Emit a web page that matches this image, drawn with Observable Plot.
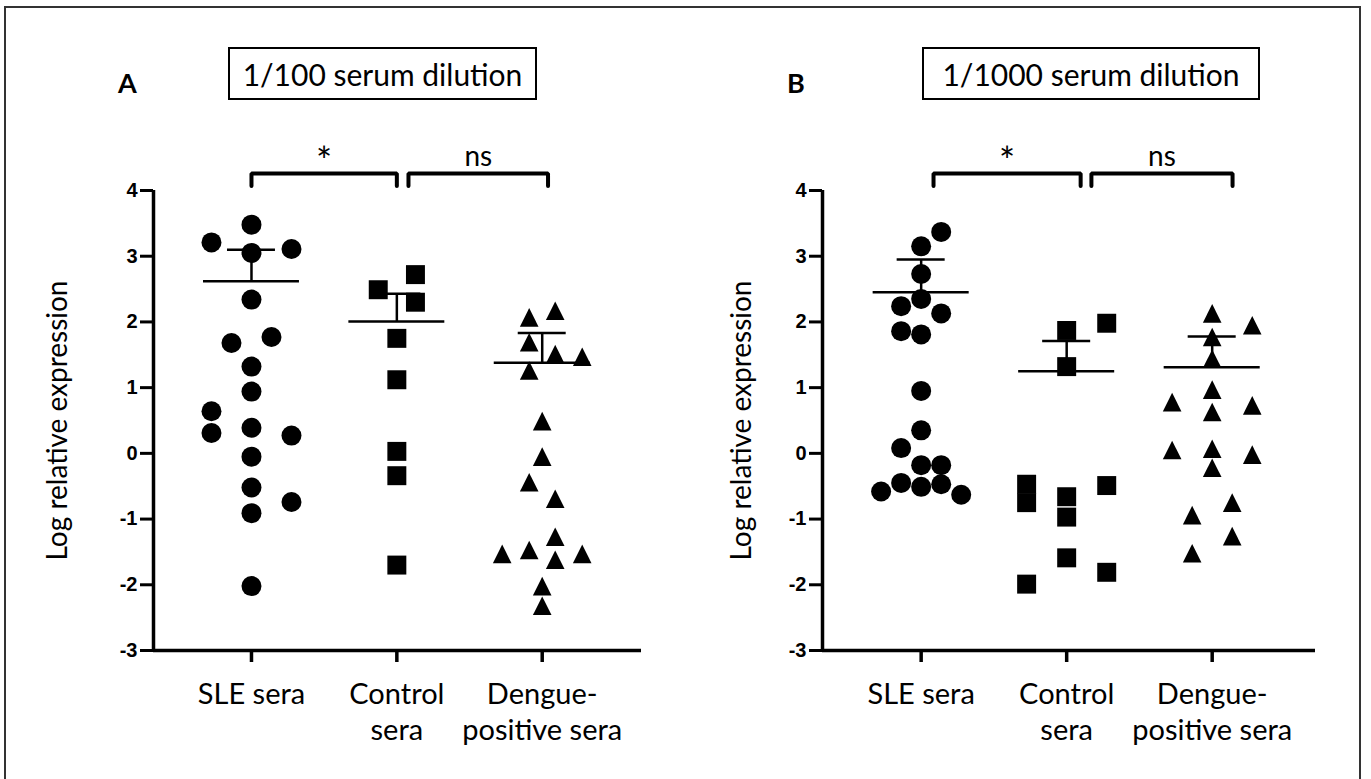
<!DOCTYPE html>
<html>
<head>
<meta charset="utf-8">
<script src="https://cdn.jsdelivr.net/npm/d3@7"></script>
<script src="https://cdn.jsdelivr.net/npm/@observablehq/plot@0.6"></script>
<style>
  body { margin: 0; background: #fff; }
  #root { position: relative; width: 1371px; height: 779px; overflow: hidden; background: #fff; font-family: Lato, sans-serif; color: #000; }
  #frame { position: absolute; left: 4px; top: 6px; width: 1357px; height: 820px; border: 2px solid #333; box-sizing: border-box; }
  .panel { position: absolute; top: 0; }
  .letter { position: absolute; font-weight: bold; font-size: 27px; line-height: 27px; }
  .tbox { position: absolute; border: 2px solid #000; box-sizing: border-box; font-size: 30px; display: flex; align-items: center; justify-content: center; white-space: nowrap; }
</style>
</head>
<body>
<div id="root">
  <div id="frame"></div>
  <div class="letter" style="left:118px;top:69px;">A</div>
  <div class="tbox" style="left:228px;top:47px;width:309px;height:53px;">1/100 serum dilution</div>
  <div class="letter" style="left:787px;top:69px;">B</div>
  <div class="tbox" style="left:922px;top:47px;width:338px;height:53px;">1/1000 serum dilution</div>
</div>
<script>
// ---------- data ----------
const categories = ["SLE sera", "Control\nsera", "Dengue-\npositive sera"];
const yTicks = [-3, -2, -1, 0, 1, 2, 3, 4];
const yLabel = "Log relative expression";
const sigLabels = ["*", "ns"];

// Panel A (1/100 dilution): values and swarm column (in dot slots)
const aSleValues = [3.48, 3.21, 3.11, 3.05, 2.34, 1.68, 1.77, 1.32, 0.94, 0.64, 0.31, 0.39, 0.27, -0.05, -0.52, -0.91, -0.74, -2.02];
const aSleCols   = [0, -2, 2, 0, 0, -1, 1, 0, 0, -2, -2, 0, 2, 0, 0, 0, 2, 0];
const aCtrlValues = [2.72, 2.49, 2.30, 1.75, 1.12, 0.03, -0.34, -1.70];
const aCtrlCols   = [0.93, -0.93, 0.93, 0, 0, 0, 0, 0];
const aDengValues = [2.17, 2.07, 1.69, 1.51, 1.47, 1.26, 0.49, -0.05, -0.44, -0.69, -1.27, -1.53, -1.47, -1.62, -1.53, -2.02, -2.32];
const aDengCols   = [0.65, -0.65, -0.65, 0.65, 2, -0.65, 0, 0, -0.65, 0.65, 0.65, -2, -0.65, 0.65, 2, 0, 0];
const aMeans = [2.62, 2.005, 1.38];
const aUpper = [3.10, 2.43, 1.83];
const aBrackets = [[0, 1], [1.08, 2.04]];

// Panel B (1/1000 dilution)
const bSleValues = [3.37, 3.15, 2.73, 2.35, 2.24, 2.13, 1.86, 1.81, 0.95, 0.35, 0.08, -0.18, -0.18, -0.45, -0.51, -0.47, -0.58, -0.63];
const bSleCols   = [1, 0, 0, 0, -1, 1, -1, 0, 0, 0, -1, 0, 1, -1, 0, 1, -2, 2];
const bCtrlValues = [1.87, 1.98, 1.32, -0.47, -0.75, -0.49, -0.66, -0.97, -1.59, -1.81, -1.99];
const bCtrlCols   = [0, 2, 0, -2, -2, 2, 0, 0, 0, 2, -2];
const bDengValues = [2.13, 1.95, 1.77, 1.44, 0.97, 0.78, 0.73, 0.63, 0.05, 0.07, -0.02, -0.22, -0.75, -0.94, -1.26, -1.52];
const bDengCols   = [0, 2, 0, 0, 0, -2, 2, 0, -2, 0, 2, 0, 1, -1, 1, -1];
const bMeans = [2.45, 1.25, 1.31];
const bUpper = [2.95, 1.71, 1.78];
const bBrackets = [[0.085, 1.096], [1.17, 2.14]];

// ---------- drawing ----------
const SLOT = 0.1376;       // one swarm column, in category units
const MEAN_HALF = 0.33;
const CAP_HALF = 0.165;
const BR_TOP = 4.26, BR_END = 4.07;

const triangle = {
  draw(context, size) {
    const h = Math.sqrt(size / Math.PI) * 0.93;
    context.moveTo(0, -h);
    context.lineTo(h, h);
    context.lineTo(-h, h);
    context.closePath();
  }
};

function rows(values, cols, ci) {
  return values.map((v, i) => ({x: ci + cols[i] * SLOT, y: v}));
}

function panel({sle, ctrl, deng, means, upper, brackets, left, width, marginLeft, marginRight, domainX, labelDx}) {
  const idx = [0, 1, 2];
  const bracketPts = brackets.flatMap(([x1, x2], k) => [
    {k, x: x1, y: BR_END}, {k, x: x1, y: BR_TOP}, {k, x: x2, y: BR_TOP}, {k, x: x2, y: BR_END}
  ]);
  const svg = Plot.plot({
    width, height: 779,
    marginLeft, marginRight, marginTop: 190, marginBottom: 129,
    style: {fontFamily: "Lato, sans-serif", background: "transparent", overflow: "visible"},
    x: {domain: domainX},
    y: {domain: [-3, 4]},
    marks: [
      Plot.axisY({ticks: yTicks, tickSize: 13, tickPadding: 3, tickFormat: d => String(d),
        fontSize: 20, fontWeight: "bold", fontFamily: "Liberation Sans Narrow, Arial Narrow, sans-serif",
        strokeWidth: 3, label: null, fill: "black", stroke: "black"}),
      Plot.axisX({ticks: idx, tickSize: 12, tickPadding: 15, tickFormat: i => categories[i],
        fontSize: 29, lineHeight: 1.27, strokeWidth: 3.5, label: null, fill: "black", stroke: "black"}),
      Plot.ruleX([domainX[0]], {strokeWidth: 3.5, stroke: "black"}),
      Plot.ruleY([-3], {strokeWidth: 3.5, stroke: "black"}),
      Plot.text([yLabel], {text: d => d, frameAnchor: "left", textAnchor: "middle", lineAnchor: "middle", rotate: -90, dx: labelDx, fontSize: 28, fill: "black"}),
      Plot.dot(rows(sle.v, sle.c, 0), {x: "x", y: "y", r: 10, symbol: "circle", fill: "black", stroke: null}),
      Plot.dot(rows(ctrl.v, ctrl.c, 1), {x: "x", y: "y", r: 10.7, symbol: "square", fill: "black", stroke: null}),
      Plot.dot(rows(deng.v, deng.c, 2), {x: "x", y: "y", r: 10, symbol: triangle, fill: "black", stroke: null}),
      Plot.ruleY(idx, {y: i => means[i], x1: i => i - MEAN_HALF, x2: i => i + MEAN_HALF, strokeWidth: 2.5, stroke: "black"}),
      Plot.ruleX(idx, {x: i => i, y1: i => means[i], y2: i => upper[i], strokeWidth: 2.5, stroke: "black"}),
      Plot.ruleY(idx, {y: i => upper[i], x1: i => i - CAP_HALF, x2: i => i + CAP_HALF, strokeWidth: 2.5, stroke: "black"}),
      Plot.line(bracketPts, {x: "x", y: "y", z: "k", stroke: "black", strokeWidth: 4, strokeLinejoin: "miter", curve: "linear"}),
      Plot.text([brackets[0]], {x: d => (d[0] + d[1]) / 2, y: BR_TOP, text: () => sigLabels[0], lineAnchor: "bottom", dy: 2, fontSize: 38, fill: "black"}),
      Plot.text([brackets[1]], {x: d => (d[0] + d[1]) / 2, y: BR_TOP, text: () => sigLabels[1], lineAnchor: "bottom", dy: -7, fontSize: 28, fill: "black"})
    ]
  });
  svg.classList.add("panel");
  svg.style.left = left + "px";
  svg.style.position = "absolute";
  svg.style.maxWidth = "none";
  document.getElementById("root").appendChild(svg);
}

panel({
  sle: {v: aSleValues, c: aSleCols}, ctrl: {v: aCtrlValues, c: aCtrlCols}, deng: {v: aDengValues, c: aDengCols},
  means: aMeans, upper: aUpper, brackets: aBrackets,
  left: 0, width: 685, marginLeft: 153, marginRight: 44, domainX: [-0.674, 2.683], labelDx: -95
});
panel({
  sle: {v: bSleValues, c: bSleCols}, ctrl: {v: bCtrlValues, c: bCtrlCols}, deng: {v: bDengValues, c: bDengCols},
  means: bMeans, upper: bUpper, brackets: bBrackets,
  left: 685, width: 686, marginLeft: 137, marginRight: 56, domainX: [-0.678, 2.71], labelDx: -80
});
</script>
</body>
</html>
